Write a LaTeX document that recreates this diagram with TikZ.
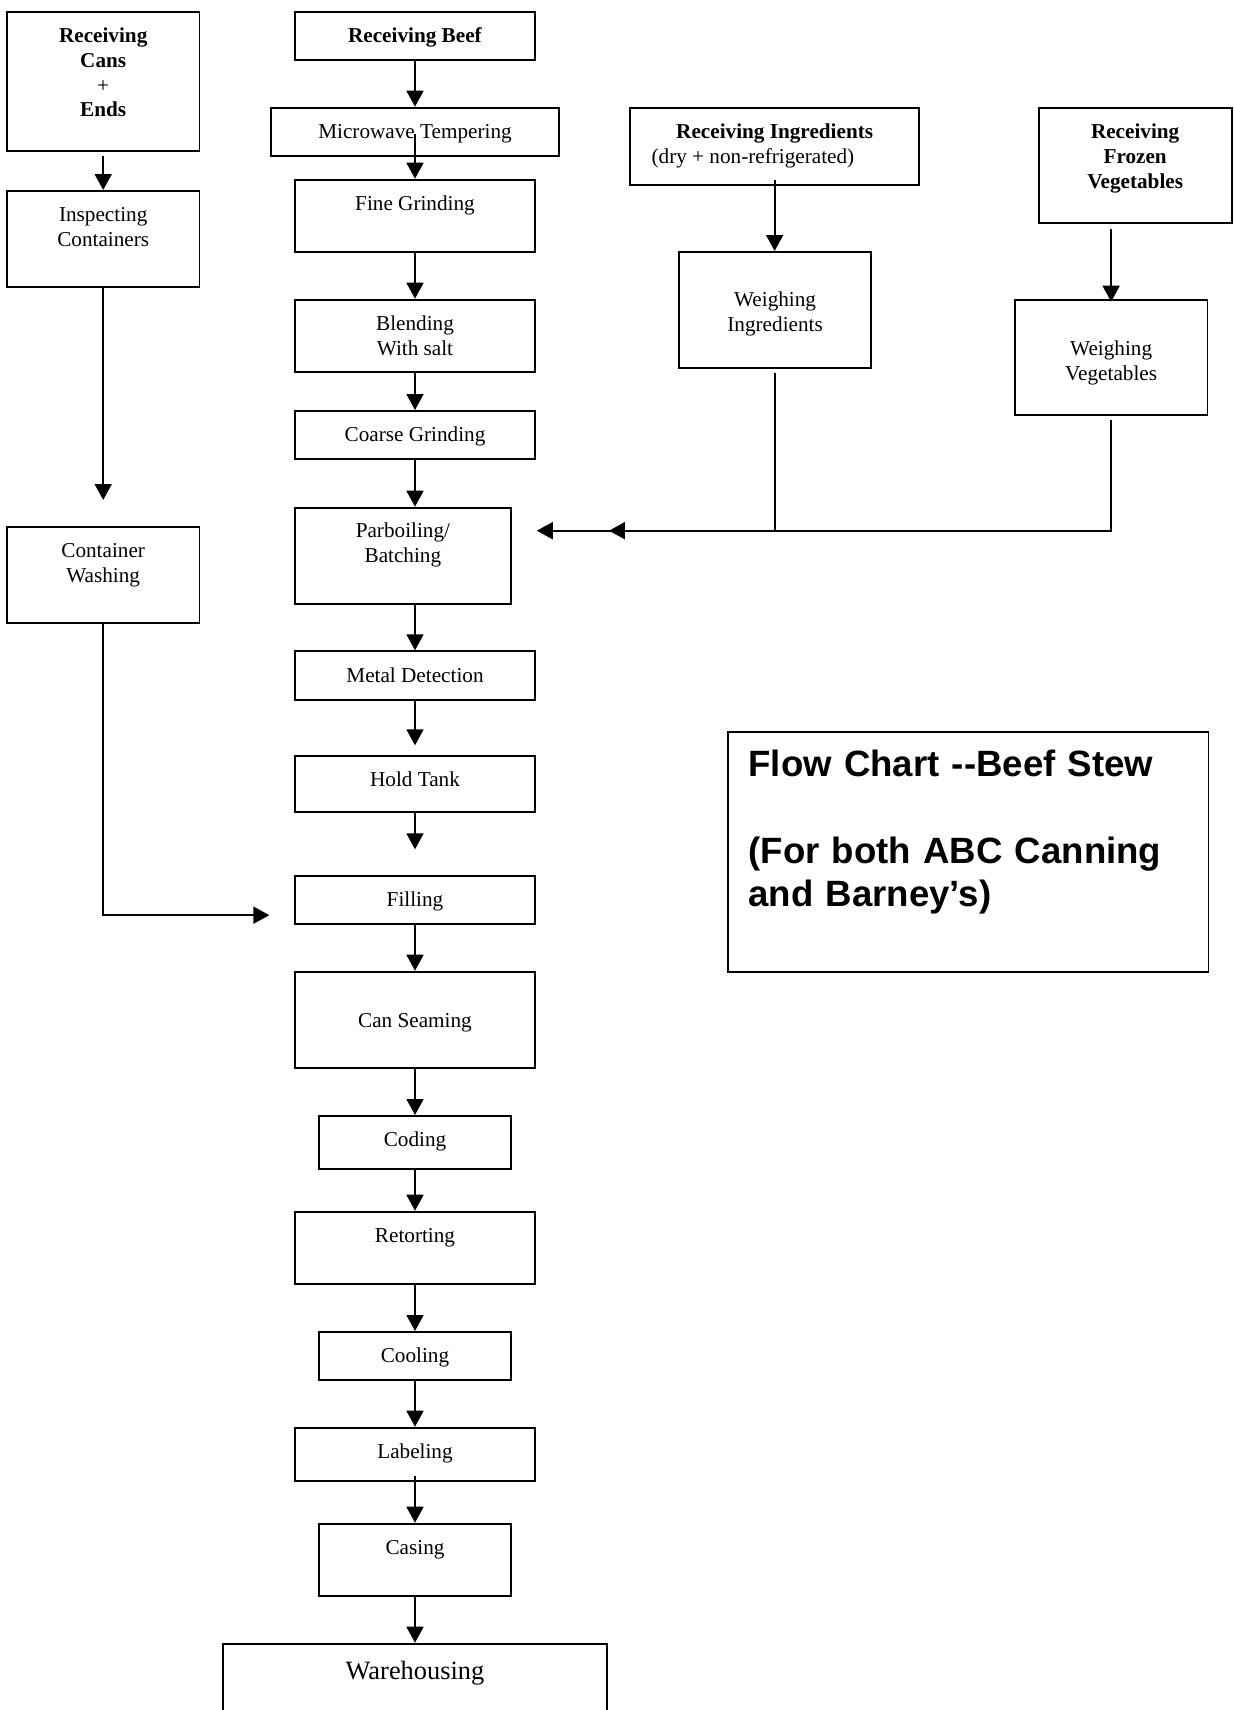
\documentclass[tikz,border=0pt]{standalone}
\usepackage{fontspec}
\setmainfont{Liberation Serif}
\newfontfamily\titlefont{Liberation Sans}
\usepackage{tikz}
\newcommand{\boxfont}{\fontsize{10.6}{12.35}\selectfont}
\tikzset{box/.style={draw, line width=0.9pt, inner sep=0pt, anchor=north,
   align=center, font=\boxfont, text height=15.5pt},
 flow/.style={line width=0.9pt, -{Triangle[length=8pt,width=8.5pt]}},
 }
\usetikzlibrary{arrows.meta}

\begin{document}
\begin{tikzpicture}[x=0.5pt, y=-0.5pt]
        \useasboundingbox (0,0) rectangle (1234,1710);
        \clip (0,0) rectangle (1234,1710);
        \node[box, minimum width=96.25pt, text height=52.55pt, text depth=17.1pt] (cans) at (103.2,10.7)
            {\textbf{Receiving}\\\textbf{Cans}\\+\\\textbf{Ends}};
        \node[box, minimum width=96.25pt, text height=27.85pt, text depth=20pt] (insp) at (103.2,190) {Inspecting\\Containers};
        \node[box, minimum width=96.25pt, text height=27.85pt, text depth=20.15pt] (wash) at (103.2,525.7) {Container\\Washing};
        \node[box, minimum width=120.3pt, text depth=8.8pt] (beef) at (415,10.7) {\textbf{Receiving Beef}};
        \node[box, minimum width=144.3pt, text depth=8.65pt] (micro) at (415,106.7) {Microwave Tempering};
        \node[box, minimum width=120.3pt, text depth=20.5pt] (fine) at (415,178.7) {Fine Grinding};
        \node[box, minimum width=120.3pt, text height=27.85pt, text depth=8.15pt] (blend) at (415,298.7) {Blending\\With salt};
        \node[box, minimum width=120.3pt, text depth=8.65pt] (coarse) at (415,410) {Coarse Grinding};
        \node[box, minimum width=108.15pt, text height=27.5pt, text depth=20.5pt] (parb) at (402.9,506.7) {Parboiling/\\Batching};
        \node[box, minimum width=120.3pt, text depth=8.7pt] (metal) at (415,650.3) {Metal Detection};
        \node[box, minimum width=120.3pt, text depth=12.8pt] (hold) at (415,754.7) {Hold Tank};
        \node[box, minimum width=120.3pt, text depth=8.35pt] (fill) at (415,875) {Filling};
        \node[box, minimum width=120.3pt, text height=28pt, text depth=20pt] (seam) at (415,970.7) {Can Seaming};
        \node[box, minimum width=96.15pt, text depth=11pt] (coding) at (415,1115) {Coding};
        \node[box, minimum width=120.3pt, text depth=20.5pt] (retort) at (415,1210.7) {Retorting};
        \node[box, minimum width=96.15pt, text depth=8.5pt] (cool) at (415,1331) {Cooling};
        \node[box, minimum width=120.3pt, text depth=11.15pt] (labeling) at (415,1426.7) {Labeling};
        \node[box, minimum width=96.15pt, text depth=20.65pt] (casing) at (415,1522.7) {Casing};
        \node[box, minimum width=192.3pt, text height=17.8pt, text depth=32.2pt,
            font=\fontsize{13.2}{15}\selectfont] (ware) at (415,1642.7) {Warehousing};
        \node[box, minimum width=144.35pt, text height=27.85pt, text depth=10.8pt] (ring) at (774.65,106.7)
            {\textbf{Receiving Ingredients}\\\hspace*{-21.7pt}(dry + non-refrigerated)};
        \node[box, minimum width=96.2pt, text height=39.85pt, text depth=18pt] (wing) at (775.1,251) {Weighing\\Ingredients};
        \node[box, minimum width=96.45pt, text height=40.2pt, text depth=17.6pt] (rfv) at (1135.15,106.7)
            {\textbf{Receiving}\\\textbf{Frozen}\\\textbf{Vegetables}};
        \node[box, minimum width=96.25pt, text height=40.15pt, text depth=17.35pt] (wveg) at (1111.15,299) {Weighing\\Vegetables};
        \node[box, anchor=north west, align=left, text width=219.7pt, inner xsep=10.2pt,
            text height=22.5pt, text depth=97.35pt,
            font=\titlefont\bfseries\fontsize{18.3}{21.8}\selectfont] (title) at (727.3,731)
            {Flow Chart -{}-Beef Stew\\[21.3pt](For both ABC Canning\\and Barney’s)};
        \coordinate (inlet) at ([xshift=12.4pt,yshift=-12pt]parb.north east);
        \draw[flow, shorten <=2pt] (cans) -- (insp);
        \draw[flow, shorten >=12.85pt] (insp) -- (wash);
        \draw[flow] (wash.south) |- ([xshift=-12.25pt,yshift=-7.7pt]fill.west);
        \draw[flow] (beef) -- (micro);
        \draw[flow, shorten <=-11.65pt] (micro) -- (fine);
        \draw[flow] (fine) -- (blend);
        \draw[flow] (blend) -- (coarse);
        \draw[flow] (coarse) -- (coarse |- parb.north);
        \draw[flow] (parb.south -| metal) -- (metal);
        \draw[flow, shorten >=4.7pt] (metal) -- (hold);
        \draw[flow, shorten >=12.85pt] (hold) -- (fill);
        \draw[flow] (fill) -- (seam);
        \draw[flow] (seam) -- (coding);
        \draw[flow] (coding) -- (retort);
        \draw[flow] (retort) -- (cool);
        \draw[flow] (cool) -- (labeling);
        \draw[flow, shorten <=-2.85pt] (labeling) -- (casing);
        \draw[flow] (casing) -- (ware);
        \draw[flow, shorten <=-2.85pt] (ring) -- (ring |- wing.north);
        \draw[flow, shorten <=2.2pt, shorten >=-1.35pt] (rfv.south -| wveg) -- (wveg.north);
        \draw[flow, shorten <=2pt] (wing.south) |- ([xshift=36.1pt]inlet);
        \draw[flow, shorten <=2.15pt] (wveg.south) |- (inlet);
    \end{tikzpicture}
\end{document}
